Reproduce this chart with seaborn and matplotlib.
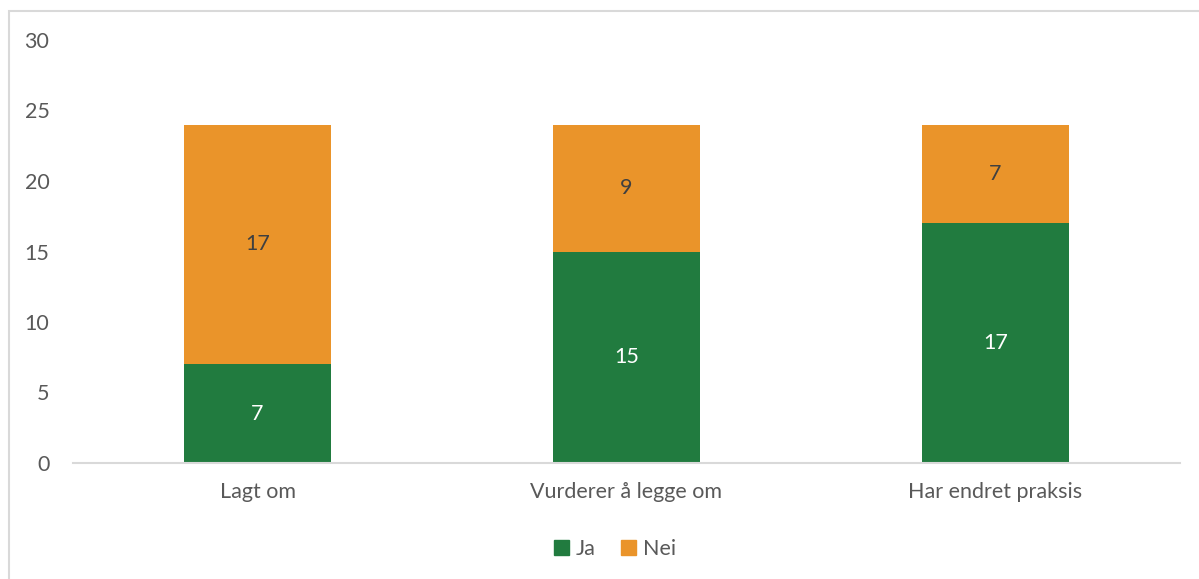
import pandas as pd
import seaborn as sns
import matplotlib.pyplot as plt
from matplotlib.patches import Rectangle, Patch

categories = ["Lagt om", "Vurderer å legge om", "Har endret praksis"]
ja = [7, 15, 17]
nei = [17, 9, 7]

green = "#217b3f"
orange = "#ea942a"
grey = "#595959"

df = pd.DataFrame({"Kategori": categories, "Ja": ja, "Nei": nei})
df["Total"] = df["Ja"] + df["Nei"]

sns.set_style("white")
plt.rcParams["font.family"] = ["Lato", "DejaVu Sans"]

fig = plt.figure(figsize=(11.99, 5.79), dpi=100)
ax = fig.add_axes([73 / 1199, 1 - 463 / 579, (1180 - 73) / 1199, (463 - 40) / 579])

# stacked: total in orange, Ja drawn over it in green
sns.barplot(data=df, x="Kategori", y="Total", color=orange, width=0.4,
            saturation=1, linewidth=0, ax=ax)
sns.barplot(data=df, x="Kategori", y="Ja", color=green, width=0.4,
            saturation=1, linewidth=0, ax=ax)

for i, row in df.iterrows():
    ax.text(i, row["Ja"] / 2, str(row["Ja"]), ha="center", va="center",
            color="white", fontsize=15.5)
    ax.text(i, row["Ja"] + row["Nei"] / 2, str(row["Nei"]), ha="center",
            va="center", color="#404040", fontsize=15.5)

ax.set_xlim(-0.5, 2.5)
ax.set_ylim(0, 30)
ax.set_yticks([0, 5, 10, 15, 20, 25, 30])
ax.set_xlabel("")
ax.set_ylabel("")
ax.tick_params(axis="y", length=0, pad=17, labelsize=15.5, labelcolor=grey)
ax.tick_params(axis="x", length=0, pad=14, labelsize=15.5, labelcolor=grey)

for s in ["top", "right", "left"]:
    ax.spines[s].set_visible(False)
ax.spines["bottom"].set_color("#d9d9d9")
ax.spines["bottom"].set_linewidth(1.5)

handles = [Patch(color=green, label="Ja"), Patch(color=orange, label="Nei")]
fig.legend(handles=handles, loc="center", bbox_to_anchor=(615 / 1199, 1 - 549 / 579),
           ncol=2, frameon=False, fontsize=15.5, labelcolor=grey,
           handlelength=0.7, handleheight=0.7, handletextpad=0.3, columnspacing=1.2)

# chart frame (cropped on right and bottom)
fig.patches.append(Rectangle((9 / 1199, -0.1), 1.2, 1 - 11 / 579 + 0.1,
                             transform=fig.transFigure, fill=False,
                             edgecolor="#d9d9d9", linewidth=1.5))

fig.savefig("out.png", dpi=100)
